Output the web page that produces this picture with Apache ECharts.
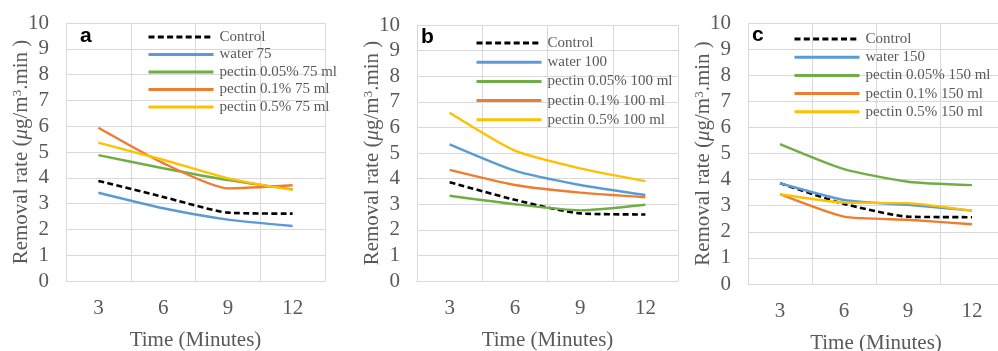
<!DOCTYPE html>
<html><head><meta charset="utf-8">
<script src="https://cdn.jsdelivr.net/npm/echarts@6/dist/echarts.min.js"></script>
<style>html,body{margin:0;padding:0;background:#fff}#c{width:998px;height:351px}</style>
</head><body><div id="c"></div>
<script>
// ---- data ----
const categories = ['3', '6', '9', '12'];
const panelLetters = ['a', 'b', 'c'];

const namesA = ['Control', 'water 75', 'pectin 0.05% 75 ml', 'pectin 0.1% 75 ml', 'pectin 0.5% 75 ml'];
const controlA = [3.88, 3.26, 2.65, 2.61];
const waterA = [3.42, 2.82, 2.38, 2.13];
const pectin005A = [4.88, 4.37, 3.91, 3.55];
const pectin01A = [5.94, 4.57, 3.59, 3.71];
const pectin05A = [5.36, 4.70, 3.98, 3.53];

const namesB = ['Control', 'water 100', 'pectin 0.05% 100 ml', 'pectin 0.1% 100 ml', 'pectin 0.5% 100 ml'];
const controlB = [3.86, 3.17, 2.64, 2.60];
const waterB = [5.34, 4.31, 3.75, 3.36];
const pectin005B = [3.33, 3.00, 2.76, 2.98];
const pectin01B = [4.34, 3.75, 3.45, 3.27];
const pectin05B = [6.57, 5.09, 4.40, 3.90];

const namesC = ['Control', 'water 150', 'pectin 0.05% 150 ml', 'pectin 0.1% 150 ml', 'pectin 0.5% 150 ml'];
const controlC = [3.86, 3.07, 2.58, 2.56];
const waterC = [3.86, 3.22, 3.03, 2.81];
const pectin005C = [5.36, 4.40, 3.92, 3.79];
const pectin01C = [3.44, 2.58, 2.46, 2.29];
const pectin05C = [3.44, 3.12, 3.10, 2.81];

// ---- styling ----
const colors = ['#000000', '#5B9BD5', '#70AD47', '#ED7D31', '#FFC000'];
const gridDefs = [
  { left: 66, top: 23, width: 259, height: 258 },
  { left: 417, top: 25, width: 261, height: 256 },
  { left: 748, top: 23, width: 256, height: 261 }
];
const legendDefs = [
  { left: 147, top: 29.5, itemGap: 2.5 },
  { left: 475, top: 35.5, itemGap: 4.2 },
  { left: 793, top: 31.5, itemGap: 3.2 }
];
const letterPos = [[80, 26], [421, 27], [752, 25]];
const panels = [
  { names: namesA, data: [controlA, waterA, pectin005A, pectin01A, pectin05A] },
  { names: namesB, data: [controlB, waterB, pectin005B, pectin01B, pectin05B] },
  { names: namesC, data: [controlC, waterC, pectin005C, pectin01C, pectin05C] }
];

const serif = '"Liberation Serif","Times New Roman",serif';
const grey = '#595959';
const gridCol = '#d9d9d9';

const grid = [], xAxis = [], yAxis = [], series = [], legend = [], graphic = [];
panels.forEach((p, i) => {
  grid.push(Object.assign({ containLabel: false, outerBoundsMode: 'none' }, gridDefs[i]));
  xAxis.push({
    type: 'category', gridIndex: i, data: categories, boundaryGap: true,
    axisLine: { show: true, lineStyle: { color: gridCol, width: 1 } },
    axisTick: { show: false },
    splitLine: { show: true, lineStyle: { color: gridCol, width: 1 } },
    axisLabel: { color: grey, fontFamily: serif, fontSize: 21, margin: 17 },
    name: 'Time (Minutes)', nameLocation: 'middle', nameGap: 49, nameMoveOverlap: false,
    nameTextStyle: { color: grey, fontFamily: serif, fontSize: 21 }
  });
  yAxis.push({
    type: 'value', gridIndex: i, min: 0, max: 10, interval: 1,
    axisLine: { show: true, lineStyle: { color: gridCol, width: 1 } },
    axisTick: { show: false },
    splitLine: { show: true, lineStyle: { color: gridCol, width: 1 } },
    axisLabel: { color: grey, fontFamily: serif, fontSize: 21, margin: 17 },
    name: 'Removal rate ({i|μ}g/m{s|3}.min )', nameLocation: 'middle', nameGap: 34, nameMoveOverlap: false,
    nameTextStyle: {
      color: grey, fontFamily: serif, fontSize: 21,
      rich: {
        i: { fontStyle: 'italic', fontFamily: serif, fontSize: 21, color: grey },
        s: { fontFamily: serif, fontSize: 13, color: grey, verticalAlign: 'top', padding: [0, 0, 8, 0] }
      }
    }
  });
  p.data.forEach((vals, k) => {
    series.push({
      type: 'line', name: p.names[k], xAxisIndex: i, yAxisIndex: i,
      data: vals, smooth: 0.2, symbol: 'none', silent: true,
      color: colors[k],
      lineStyle: k === 0
        ? { color: colors[k], width: 2.6, type: [6, 3.3] }
        : { color: colors[k], width: 2.4 },
      z: 2 + k
    });
  });
  legend.push({
    orient: 'vertical', left: legendDefs[i].left, top: legendDefs[i].top,
    padding: 0,
    itemGap: legendDefs[i].itemGap, itemWidth: 65, itemHeight: 15,
    data: p.names, selectedMode: false,
    itemStyle: { opacity: 0, borderWidth: 0 },
    lineStyle: { width: 3 },
    textStyle: { color: grey, fontFamily: serif, fontSize: 15, lineHeight: 15, padding: [0, 0, 0, 1] }
  });
  graphic.push({
    type: 'text', left: letterPos[i][0], top: letterPos[i][1],
    style: { text: panelLetters[i], fontFamily: '"Liberation Sans",Arial,sans-serif', fontWeight: 'bold', fontSize: 21, fill: '#000' }
  });
});

const chart = echarts.init(document.getElementById('c'), null, { renderer: 'canvas' });
chart.setOption({ animation: false, backgroundColor: '#fff', grid, xAxis, yAxis, series, legend, graphic });
</script></body></html>
